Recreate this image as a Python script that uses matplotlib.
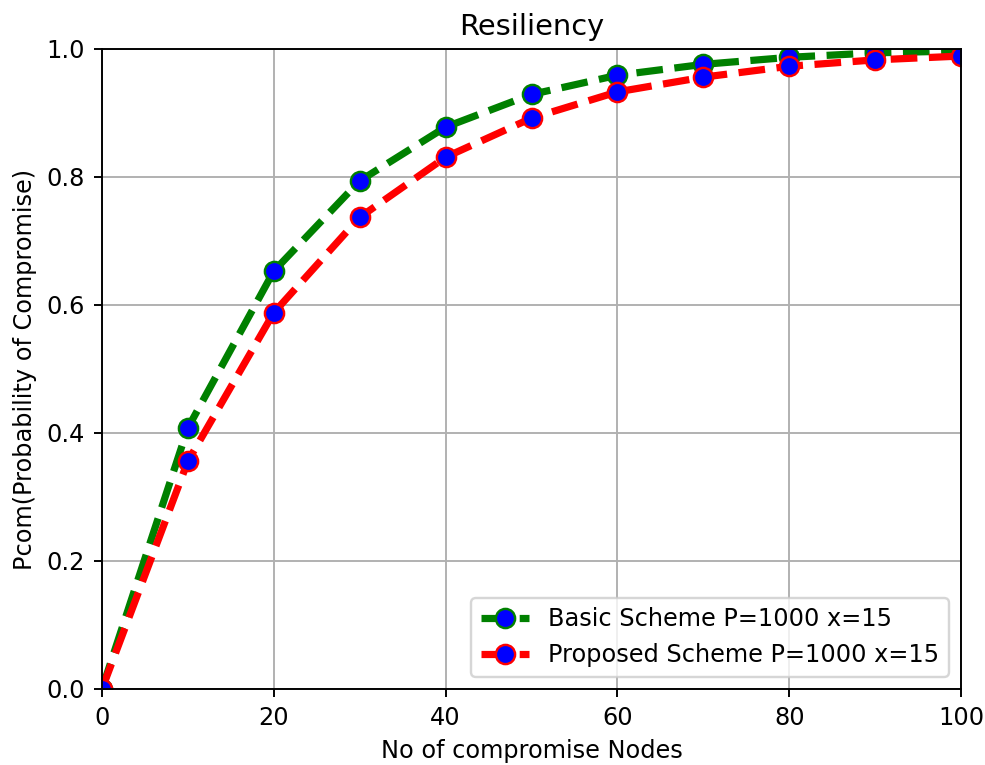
import matplotlib.pyplot as plt

nodes = [0, 10, 20, 30, 40, 50, 60, 70, 80, 90, 100]
basic = [0.0, 0.408, 0.653, 0.794, 0.878, 0.929, 0.959, 0.976, 0.987, 0.994, 0.997]
proposed = [0.0, 0.356, 0.588, 0.737, 0.831, 0.892, 0.933, 0.956, 0.973, 0.983, 0.989]

labels = ['Basic Scheme P=1000 x=15', 'Proposed Scheme P=1000 x=15']

dpi = 173
fig = plt.figure(figsize=(985 / dpi, 765 / dpi), dpi=dpi)
ax = fig.add_axes([102 / 985, 1 - 689 / 765, 859 / 985, 640 / 765])

ax.plot(nodes, basic, 'g--o', linewidth=3, markersize=8, markerfacecolor='blue', label=labels[0])
ax.plot(nodes, proposed, 'r--o', linewidth=3, markersize=8, markerfacecolor='blue', label=labels[1])

ax.set_xlim(0, 100)
ax.set_ylim(0, 1)
ax.set_title('Resiliency')
ax.set_xlabel('No of compromise Nodes')
ax.set_ylabel('Pcom(Probability of Compromise)')
ax.grid(True)
ax.legend(loc='lower right')

fig.savefig('out.png', dpi=dpi)
